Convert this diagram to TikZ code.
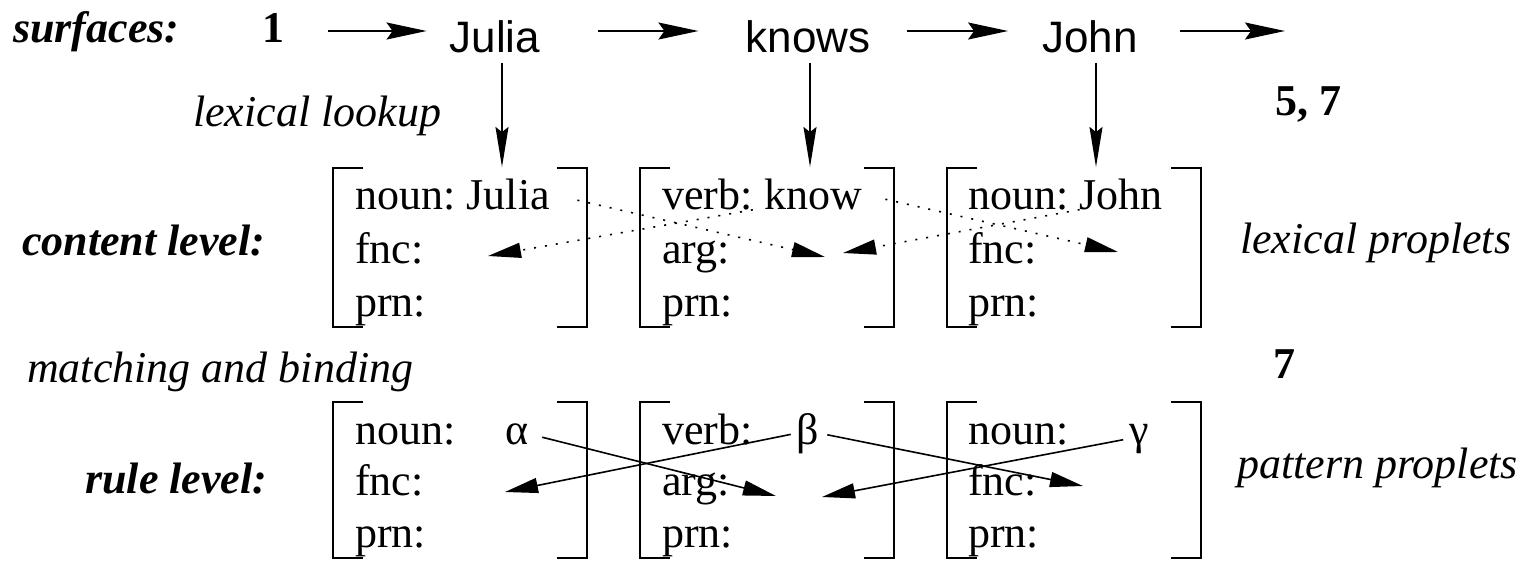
\documentclass[tikz,border=0pt]{standalone}
\usepackage{fontspec}
\setmainfont{LiberationSerif}[Extension=.ttf, UprightFont=*-Regular, BoldFont=*-Bold, ItalicFont=*-Italic, BoldItalicFont=*-BoldItalic]
\setsansfont{Liberation Sans}
\usetikzlibrary{positioning, arrows.meta}
\newcommand{\figsize}{\fontsize{44}{53}\selectfont}
\tikzset{level/.style={anchor=base west, inner sep=0pt, font=\figsize\bfseries\itshape},
         remark/.style={anchor=base west, inner sep=0pt, font=\figsize\itshape},
         stepno/.style={anchor=base west, inner sep=0pt, font=\figsize\bfseries},
         surface/.style={anchor=base, inner sep=0pt, font=\figsize\sffamily},
         attr/.style={anchor=base west, inner sep=0pt, font=\figsize},
         var/.style={anchor=base, inner sep=0pt, font=\figsize},
         bracket/.style={line width=1.8pt},
         flow/.style={line width=1.8pt, -{Stealth[length=40pt,width=17pt,inset=6pt]}},
         lookup/.style={line width=1.6pt, -{Stealth[length=40pt,width=13pt,inset=5pt]}},
         bind/.style={line width=1.6pt, -{Triangle[length=33pt,width=15pt]}},
         binddot/.style={bind, dash pattern=on 2pt off 9pt}}

\begin{document}
\begin{tikzpicture}[x=1pt, y=-1pt]
        \useasboundingbox (0,0) rectangle (1532,560);
        % surfaces
        \node (surf)[level] at (13,42) {surfaces:};
        \node (one)[stepno] at (262,42) {1};
        \node (julia)[surface] at (495,52) {Julia};
        \node (knows)[surface] at (808,52) {knows};
        \node (john)[surface] at (1090,52) {John};
        \coordinate (surfrow) at (0,31);
        \coordinate (surfend) at (1285,31);
        \draw [flow, shorten <=44pt, shorten >=23pt] (one.east |- surfrow) -- (julia.west |- surfrow);
        \draw [flow, shorten <=58pt, shorten >=47pt] (julia.east |- surfrow) -- (knows.west |- surfrow);
        \draw [flow, shorten <=36pt, shorten >=34pt] (knows.east |- surfrow) -- (john.west |- surfrow);
        \draw [flow, shorten <=42pt] (john.east |- surfrow) -- (surfend);
        \node (fivesev)[stepno] at (1275,115) {5, 7};
        \node (lookupnote)[remark] at (193,126) {lexical lookup};
        % lexical lookup
        \coordinate (ctop1) at (502,167);
        \coordinate (ctop2) at (810,167);
        \coordinate (ctop3) at (1096,167);
        \draw [lookup, shorten <=10pt] (julia.south -| ctop1) -- (ctop1);
        \draw [lookup, shorten <=10pt] (knows.south -| ctop2) -- (ctop2);
        \draw [lookup, shorten <=10pt] (john.south -| ctop3) -- (ctop3);
        % brackets
        \foreach \x in {333,640,947}
          \foreach \t/\b in {168/327, 402/558} {
            \draw [bracket] (\x+30,\t) -- (\x,\t) -- (\x,\b) -- (\x+30,\b);
            \draw [bracket] (\x+224,\t) -- (\x+254,\t) -- (\x+254,\b) -- (\x+224,\b);
          }
        % content level
        \node (content)[level] at (22,255) {content level:};
        \node (cnoun1)[attr] at (355,209) {noun:};
        \node (cjulia)[attr, base right=11pt of cnoun1] {Julia};
        \node (cfnc1)[attr] at (355,263) {fnc:};
        \node (cprn1)[attr] at (355,316) {prn:};
        \node (cverb)[attr] at (662,209) {verb:};
        \node (cknow)[attr, base right=11pt of cverb] {know};
        \node (carg)[attr] at (662,263) {arg:};
        \node (cprn2)[attr] at (662,316) {prn:};
        \node (cnoun3)[attr] at (968,209) {noun:};
        \node (cjohn)[attr, base right=11pt of cnoun3] {John};
        \node (cfnc3)[attr] at (968,263) {fnc:};
        \node (cprn3)[attr] at (968,316) {prn:};
        \node (lexprop)[remark] at (1240,253) {lexical proplets};
        \coordinate (cslot1) at (488,256);
        \coordinate (cslot2a) at (825,257);
        \coordinate (cslot2b) at (843,253);
        \coordinate (cslot3) at (1118,252);
        \draw [binddot, shorten <=28pt] (cjulia.east) -- (cslot2a);
        \draw [binddot, shorten <=24pt] (cknow.east) -- (cslot3);
        \draw [binddot] (cverb.south east) -- (cslot1);
        \draw [binddot] (cjohn.south west) -- (cslot2b);
        % matching
        \node (match)[remark] at (27,382) {matching and binding};
        \node (seven)[stepno] at (1273,378) {7};
        % rule level
        \node (rule)[level] at (85,493) {rule level:};
        \node (rnoun1)[attr] at (355,444) {noun:};
        \node (alpha)[var] at (517,444) {α};
        \node (rfnc1)[attr] at (355,495) {fnc:};
        \node (rprn1)[attr] at (355,547) {prn:};
        \node (rverb)[attr] at (662,444) {verb:};
        \node (beta)[var] at (808,444) {β};
        \node (rarg)[attr] at (662,495) {arg:};
        \node (rprn2)[attr] at (662,547) {prn:};
        \node (rnoun3)[attr] at (968,444) {noun:};
        \node (gamma)[var] at (1139,444) {γ};
        \node (rfnc3)[attr] at (968,495) {fnc:};
        \node (rprn3)[attr] at (968,547) {prn:};
        \node (patprop)[remark] at (1237,478) {pattern proplets};
        \coordinate (rslot1) at (505,492);
        \coordinate (rslot2a) at (776,496);
        \coordinate (rslot2b) at (822,497);
        \coordinate (rslot3) at (1083,486);
        \draw [bind, shorten <=14pt] (alpha.east) -- (rslot2a);
        \draw [bind, shorten <=6pt] (beta.west) -- (rslot1);
        \draw [bind, shorten <=8pt] (beta.east) -- (rslot3);
        \draw [bind, shorten <=6pt] (gamma.west) -- (rslot2b);
\end{tikzpicture}
\end{document}
